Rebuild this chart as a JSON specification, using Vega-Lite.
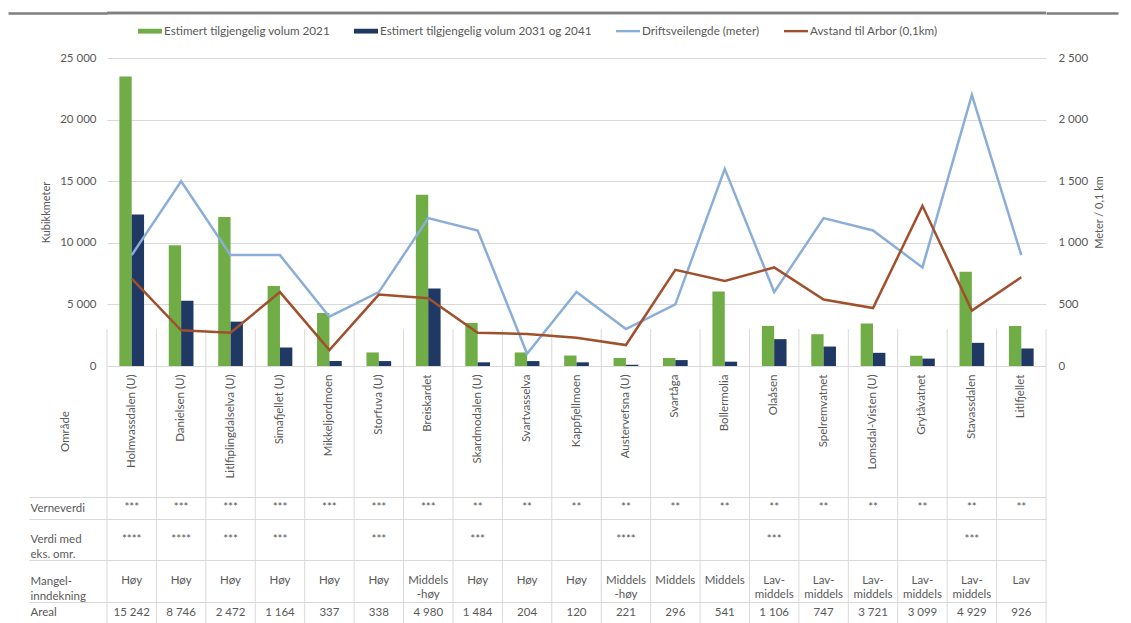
{
  "$schema": "https://vega.github.io/schema/vega-lite/v6.json",
  "padding": {"left": 6, "top": 11, "right": 4, "bottom": 0},
  "background": "white",
  "spacing": 0,
  "bounds": "flush",
  "config": {
    "font": "Lato",
    "view": {"stroke": null},
    "axis": {"labelColor": "#595959", "titleColor": "#595959", "labelFont": "Lato", "titleFont": "Lato", "labelFontSize": 11.5, "titleFontSize": 11, "titleFontWeight": "normal"},
    "text": {"font": "Lato", "fontSize": 11.5, "color": "#595959"}
  },
  "datasets": {
    "d": [
      {"name": "Holmvassdalen (U)", "v2021": 23500, "v2031": 12300, "drift": 900, "arbor": 710, "verne": "***", "verdi": "****", "mangel": "Høy", "areal": "15 242"},
      {"name": "Danielsen (U)", "v2021": 9800, "v2031": 5300, "drift": 1500, "arbor": 290, "verne": "***", "verdi": "****", "mangel": "Høy", "areal": "8 746"},
      {"name": "Litlfiplingdalselva (U)", "v2021": 12100, "v2031": 3600, "drift": 900, "arbor": 270, "verne": "***", "verdi": "***", "mangel": "Høy", "areal": "2 472"},
      {"name": "Simafjellet (U)", "v2021": 6500, "v2031": 1500, "drift": 900, "arbor": 600, "verne": "***", "verdi": "***", "mangel": "Høy", "areal": "1 164"},
      {"name": "Mikkeljordmoen", "v2021": 4300, "v2031": 400, "drift": 400, "arbor": 130, "verne": "***", "verdi": "", "mangel": "Høy", "areal": "337"},
      {"name": "Storfuva (U)", "v2021": 1100, "v2031": 400, "drift": 600, "arbor": 580, "verne": "***", "verdi": "***", "mangel": "Høy", "areal": "338"},
      {"name": "Breiskardet", "v2021": 13900, "v2031": 6300, "drift": 1200, "arbor": 550, "verne": "***", "verdi": "", "mangel": "Middels\n-høy", "areal": "4 980"},
      {"name": "Skardmodalen (U)", "v2021": 3500, "v2031": 300, "drift": 1100, "arbor": 270, "verne": "**", "verdi": "***", "mangel": "Høy", "areal": "1 484"},
      {"name": "Svartvasselva", "v2021": 1100, "v2031": 400, "drift": 100, "arbor": 260, "verne": "**", "verdi": "", "mangel": "Høy", "areal": "204"},
      {"name": "Kappfjellmoen", "v2021": 850, "v2031": 300, "drift": 600, "arbor": 230, "verne": "**", "verdi": "", "mangel": "Høy", "areal": "120"},
      {"name": "Austervefsna (U)", "v2021": 650, "v2031": 100, "drift": 300, "arbor": 170, "verne": "**", "verdi": "****", "mangel": "Middels\n-høy", "areal": "221"},
      {"name": "Svartåga", "v2021": 650, "v2031": 480, "drift": 500, "arbor": 780, "verne": "**", "verdi": "", "mangel": "Middels", "areal": "296"},
      {"name": "Bollermolia", "v2021": 6050, "v2031": 350, "drift": 1600, "arbor": 690, "verne": "**", "verdi": "", "mangel": "Middels", "areal": "541"},
      {"name": "Olaåsen", "v2021": 3250, "v2031": 2180, "drift": 600, "arbor": 800, "verne": "**", "verdi": "***", "mangel": "Lav-\nmiddels", "areal": "1 106"},
      {"name": "Spelremvatnet", "v2021": 2580, "v2031": 1580, "drift": 1200, "arbor": 540, "verne": "**", "verdi": "", "mangel": "Lav-\nmiddels", "areal": "747"},
      {"name": "Lomsdal-Visten (U)", "v2021": 3450, "v2031": 1070, "drift": 1100, "arbor": 470, "verne": "**", "verdi": "", "mangel": "Lav-\nmiddels", "areal": "3 721"},
      {"name": "Grytåvatnet", "v2021": 830, "v2031": 600, "drift": 800, "arbor": 1300, "verne": "**", "verdi": "", "mangel": "Lav-\nmiddels", "areal": "3 099"},
      {"name": "Stavassdalen", "v2021": 7650, "v2031": 1880, "drift": 2200, "arbor": 450, "verne": "**", "verdi": "***", "mangel": "Lav-\nmiddels", "areal": "4 929"},
      {"name": "Litlfjellet", "v2021": 3250, "v2031": 1420, "drift": 900, "arbor": 720, "verne": "**", "verdi": "", "mangel": "Lav", "areal": "926"}
    ]
  },
  "vconcat": [
    {
      "width": 939,
      "height": 45,
      "data": {"name": "d"},
      "transform": [{"filter": "datum.name == 'Holmvassdalen (U)'"}],
      "layer": [
        {
          "mark": {"type": "rule", "color": "#7f7f7f", "strokeWidth": 2.5},
          "encoding": {
            "y": {"datum": 1, "type": "quantitative", "scale": {"domain": [0, 1], "nice": false},
              "axis": {"orient": "left", "values": [1], "labels": false, "domain": false, "grid": false, "ticks": true, "tickSize": 99, "tickWidth": 2.5, "tickColor": "#7f7f7f", "labelPadding": 0, "title": null, "minExtent": 0}}
          }
        },
        {
          "mark": {"type": "rule", "color": "#7f7f7f", "strokeWidth": 2.5},
          "encoding": {
            "y": {"datum": 1, "type": "quantitative", "scale": {"domain": [0, 1], "nice": false},
              "axis": {"orient": "right", "values": [1], "labels": false, "domain": false, "grid": false, "ticks": true, "tickSize": 72, "tickWidth": 2.5, "tickColor": "#7f7f7f", "labelPadding": 0, "title": null, "minExtent": 0}}
          }
        }
      ],
      "resolve": {"scale": {"y": "independent"}}
    },
    {
      "width": 939,
      "height": 308,
      "data": {"name": "d"},
      "layer": [
        {
          "layer": [
            {
              "transform": [{"fold": ["v2021", "v2031"], "as": ["key", "vol"]}],
              "mark": {"type": "bar"},
              "encoding": {
                "x": {"field": "name", "type": "nominal", "sort": null,
                  "scale": {"domain": ["Holmvassdalen (U)","Danielsen (U)","Litlfiplingdalselva (U)","Simafjellet (U)","Mikkeljordmoen","Storfuva (U)","Breiskardet","Skardmodalen (U)","Svartvasselva","Kappfjellmoen","Austervefsna (U)","Svartåga","Bollermolia","Olaåsen","Spelremvatnet","Lomsdal-Visten (U)","Grytåvatnet","Stavassdalen","Litlfjellet"], "paddingInner": 0, "paddingOuter": 0},
                  "axis": null},
                "xOffset": {"field": "key", "type": "nominal", "scale": {"paddingOuter": 1.25, "paddingInner": 0}},
                "y": {"field": "vol", "type": "quantitative", "stack": null, "scale": {"domain": [0, 25000], "nice": false},
                  "axis": {"title": "Kubikkmeter", "values": [0, 5000, 10000, 15000, 20000, 25000], "labelExpr": "replace(format(datum.value, ',d'), ',', '\u00a0')", "grid": true, "gridColor": "#d9d9d9", "domain": false, "ticks": false, "labelPadding": 11, "titlePadding": 8}},
                "color": {"field": "key", "type": "nominal",
                  "scale": {"domain": ["v2021", "v2031", "drift", "arbor"], "range": ["#70ad47", "#203864", "#8aaed9", "#a0502c"]},
                  "legend": {"orient": "none", "legendX": 31, "legendY": 6, "direction": "horizontal", "title": null,
                    "symbolSize": 576, "labelFontSize": 11.7, "labelColor": "#595959", "labelOffset": 2, "columnPadding": 24, "labelLimit": 400, "padding": 0,
                    "labelExpr": "datum.label == 'v2021' ? 'Estimert tilgjengelig volum 2021' : datum.label == 'v2031' ? 'Estimert tilgjengelig volum 2031 og 2041' : datum.label == 'drift' ? 'Driftsveilengde (meter)' : 'Avstand til Arbor (0,1km)'",
                    "encode": {"symbols": {"update": {"shape": {"signal": "(datum.value == 'drift' || datum.value == 'arbor') ? 'M-1,-0.1H1V0.1H-1Z' : 'M-1,-0.2H1V0.2H-1Z'"}, "strokeWidth": {"value": 0}}}}}}
              }
            },
            {
              "mark": {"type": "rule", "color": "#d9d9d9", "strokeWidth": 1},
              "encoding": {
                "x": {"field": "name", "type": "nominal", "bandPosition": 0},
                "y": {"datum": 0, "type": "quantitative"},
                "y2": {"datum": 3000}
              }
            },
            {
              "transform": [{"filter": "datum.name == 'Litlfjellet'"}],
              "mark": {"type": "rule", "color": "#d9d9d9", "strokeWidth": 1},
              "encoding": {
                "x": {"field": "name", "type": "nominal", "bandPosition": 1},
                "y": {"datum": 0, "type": "quantitative"},
                "y2": {"datum": 3000}
              }
            }
          ]
        },
        {
          "layer": [
            {
              "mark": {"type": "line", "color": "#8aaed9", "strokeWidth": 2.5},
              "encoding": {
                "x": {"field": "name", "type": "nominal"},
                "y": {"field": "drift", "type": "quantitative", "scale": {"domain": [0, 2500], "nice": false},
                  "axis": {"orient": "right", "title": "Meter / 0,1 km", "titleAngle": 270, "titleBaseline": "top", "values": [0, 500, 1000, 1500, 2000, 2500], "labelExpr": "replace(format(datum.value, ',d'), ',', '\u00a0')", "grid": false, "domain": false, "ticks": false, "labelPadding": 12, "titlePadding": 6}}
              }
            },
            {
              "mark": {"type": "line", "color": "#a0502c", "strokeWidth": 2.5},
              "encoding": {
                "x": {"field": "name", "type": "nominal"},
                "y": {"field": "arbor", "type": "quantitative", "scale": {"domain": [0, 2500], "nice": false},
                  "axis": {"orient": "right", "title": "Meter / 0,1 km", "titleAngle": 270, "titleBaseline": "top", "values": [0, 500, 1000, 1500, 2000, 2500], "labelExpr": "replace(format(datum.value, ',d'), ',', '\u00a0')", "grid": false, "domain": false, "ticks": false, "labelPadding": 12, "titlePadding": 6}}
              }
            }
          ]
        }
      ],
      "resolve": {"scale": {"y": "independent"}}
    },
    {
      "width": 939,
      "height": 131,
      "data": {"name": "d"},
      "encoding": {
        "x": {"field": "name", "type": "nominal", "sort": null,
          "scale": {"domain": ["Holmvassdalen (U)","Danielsen (U)","Litlfiplingdalselva (U)","Simafjellet (U)","Mikkeljordmoen","Storfuva (U)","Breiskardet","Skardmodalen (U)","Svartvasselva","Kappfjellmoen","Austervefsna (U)","Svartåga","Bollermolia","Olaåsen","Spelremvatnet","Lomsdal-Visten (U)","Grytåvatnet","Stavassdalen","Litlfjellet"], "paddingInner": 0, "paddingOuter": 0},
          "axis": null}
      },
      "layer": [
        {"mark": {"type": "rule", "color": "#d9d9d9"}, "encoding": {"x": {"field": "name", "type": "nominal", "bandPosition": 0}}},
        {"transform": [{"filter": "datum.name == 'Litlfjellet'"}], "mark": {"type": "rule", "color": "#d9d9d9"}, "encoding": {"x": {"field": "name", "type": "nominal", "bandPosition": 1}}},
        {
          "mark": {"type": "text", "angle": 270, "align": "right", "baseline": "middle", "dx": 57},
          "encoding": {
            "y": {"datum": "Område", "type": "nominal", "scale": {"type": "band", "paddingInner": 0, "paddingOuter": 0},
              "axis": {"title": null, "ticks": false, "domain": false, "grid": false, "labelAngle": 270, "labelAlign": "center", "labelBaseline": "middle", "labelPadding": 42}},
            "text": {"field": "name"}
          }
        }
      ]
    },
    {
      "width": 939,
      "height": 22,
      "data": {"name": "d"},
      "encoding": {
        "x": {"field": "name", "type": "nominal", "sort": null,
          "scale": {"domain": ["Holmvassdalen (U)","Danielsen (U)","Litlfiplingdalselva (U)","Simafjellet (U)","Mikkeljordmoen","Storfuva (U)","Breiskardet","Skardmodalen (U)","Svartvasselva","Kappfjellmoen","Austervefsna (U)","Svartåga","Bollermolia","Olaåsen","Spelremvatnet","Lomsdal-Visten (U)","Grytåvatnet","Stavassdalen","Litlfjellet"], "paddingInner": 0, "paddingOuter": 0},
          "axis": null}
      },
      "layer": [
        {"mark": {"type": "rule", "color": "#d9d9d9"}, "encoding": {"x": {"field": "name", "type": "nominal", "bandPosition": 0}}},
        {"transform": [{"filter": "datum.name == 'Litlfjellet'"}], "mark": {"type": "rule", "color": "#d9d9d9"}, "encoding": {"x": {"field": "name", "type": "nominal", "bandPosition": 1}}},
        {
          "mark": {"type": "text", "baseline": "middle"},
          "encoding": {
            "y": {"datum": "Verneverdi", "type": "nominal", "scale": {"type": "band", "paddingInner": 0, "paddingOuter": 0},
              "axis": {"title": null, "domain": false, "grid": true, "gridColor": "#d9d9d9", "tickBand": "extent", "ticks": true, "tickSize": 78, "tickColor": "#d9d9d9", "labelAlign": "left", "labelPadding": -1, "labelExpr": "split(datum.label, '|')", "labelLineHeight": 13}},
            "text": {"field": "verne"}
          }
        }
      ]
    },
    {
      "width": 939,
      "height": 41,
      "data": {"name": "d"},
      "encoding": {
        "x": {"field": "name", "type": "nominal", "sort": null,
          "scale": {"domain": ["Holmvassdalen (U)","Danielsen (U)","Litlfiplingdalselva (U)","Simafjellet (U)","Mikkeljordmoen","Storfuva (U)","Breiskardet","Skardmodalen (U)","Svartvasselva","Kappfjellmoen","Austervefsna (U)","Svartåga","Bollermolia","Olaåsen","Spelremvatnet","Lomsdal-Visten (U)","Grytåvatnet","Stavassdalen","Litlfjellet"], "paddingInner": 0, "paddingOuter": 0},
          "axis": null}
      },
      "layer": [
        {"mark": {"type": "rule", "color": "#d9d9d9"}, "encoding": {"x": {"field": "name", "type": "nominal", "bandPosition": 0}}},
        {"transform": [{"filter": "datum.name == 'Litlfjellet'"}], "mark": {"type": "rule", "color": "#d9d9d9"}, "encoding": {"x": {"field": "name", "type": "nominal", "bandPosition": 1}}},
        {
          "mark": {"type": "text", "baseline": "middle"},
          "encoding": {
            "y": {"datum": "Verdi med|eks. omr.", "type": "nominal", "scale": {"type": "band", "paddingInner": 0, "paddingOuter": 0},
              "axis": {"title": null, "domain": false, "grid": true, "gridColor": "#d9d9d9", "tickBand": "extent", "ticks": true, "tickSize": 78, "tickColor": "#d9d9d9", "labelAlign": "left", "labelPadding": -1, "labelExpr": "split(datum.label, '|')", "labelLineHeight": 15}},
            "text": {"field": "verdi"}
          }
        }
      ]
    },
    {
      "width": 939,
      "height": 42,
      "data": {"name": "d"},
      "encoding": {
        "x": {"field": "name", "type": "nominal", "sort": null,
          "scale": {"domain": ["Holmvassdalen (U)","Danielsen (U)","Litlfiplingdalselva (U)","Simafjellet (U)","Mikkeljordmoen","Storfuva (U)","Breiskardet","Skardmodalen (U)","Svartvasselva","Kappfjellmoen","Austervefsna (U)","Svartåga","Bollermolia","Olaåsen","Spelremvatnet","Lomsdal-Visten (U)","Grytåvatnet","Stavassdalen","Litlfjellet"], "paddingInner": 0, "paddingOuter": 0},
          "axis": null}
      },
      "layer": [
        {"mark": {"type": "rule", "color": "#d9d9d9"}, "encoding": {"x": {"field": "name", "type": "nominal", "bandPosition": 0}}},
        {"transform": [{"filter": "datum.name == 'Litlfjellet'"}], "mark": {"type": "rule", "color": "#d9d9d9"}, "encoding": {"x": {"field": "name", "type": "nominal", "bandPosition": 1}}},
        {
          "mark": {"type": "text", "baseline": "middle", "lineBreak": "\n", "lineHeight": 14},
          "encoding": {
            "y": {"datum": "Mangel-|inndekning", "type": "nominal", "scale": {"type": "band", "paddingInner": 0, "paddingOuter": 0},
              "axis": {"title": null, "domain": false, "grid": true, "gridColor": "#d9d9d9", "tickBand": "extent", "ticks": true, "tickSize": 78, "tickColor": "#d9d9d9", "labelAlign": "left", "labelPadding": -1, "labelExpr": "split(datum.label, '|')", "labelLineHeight": 15}},
            "text": {"field": "mangel"}
          }
        }
      ]
    },
    {
      "width": 939,
      "height": 21,
      "data": {"name": "d"},
      "encoding": {
        "x": {"field": "name", "type": "nominal", "sort": null,
          "scale": {"domain": ["Holmvassdalen (U)","Danielsen (U)","Litlfiplingdalselva (U)","Simafjellet (U)","Mikkeljordmoen","Storfuva (U)","Breiskardet","Skardmodalen (U)","Svartvasselva","Kappfjellmoen","Austervefsna (U)","Svartåga","Bollermolia","Olaåsen","Spelremvatnet","Lomsdal-Visten (U)","Grytåvatnet","Stavassdalen","Litlfjellet"], "paddingInner": 0, "paddingOuter": 0},
          "axis": null}
      },
      "layer": [
        {"mark": {"type": "rule", "color": "#d9d9d9"}, "encoding": {"x": {"field": "name", "type": "nominal", "bandPosition": 0}}},
        {"transform": [{"filter": "datum.name == 'Litlfjellet'"}], "mark": {"type": "rule", "color": "#d9d9d9"}, "encoding": {"x": {"field": "name", "type": "nominal", "bandPosition": 1}}},
        {
          "mark": {"type": "text", "baseline": "middle"},
          "encoding": {
            "y": {"datum": "Areal", "type": "nominal", "scale": {"type": "band", "paddingInner": 0, "paddingOuter": 0},
              "axis": {"title": null, "domain": false, "grid": true, "gridColor": "#d9d9d9", "tickBand": "extent", "ticks": true, "tickSize": 78, "tickColor": "#d9d9d9", "labelAlign": "left", "labelPadding": -1, "labelExpr": "split(datum.label, '|')", "labelLineHeight": 13}},
            "text": {"field": "areal"}
          }
        }
      ]
    }
  ]
}
